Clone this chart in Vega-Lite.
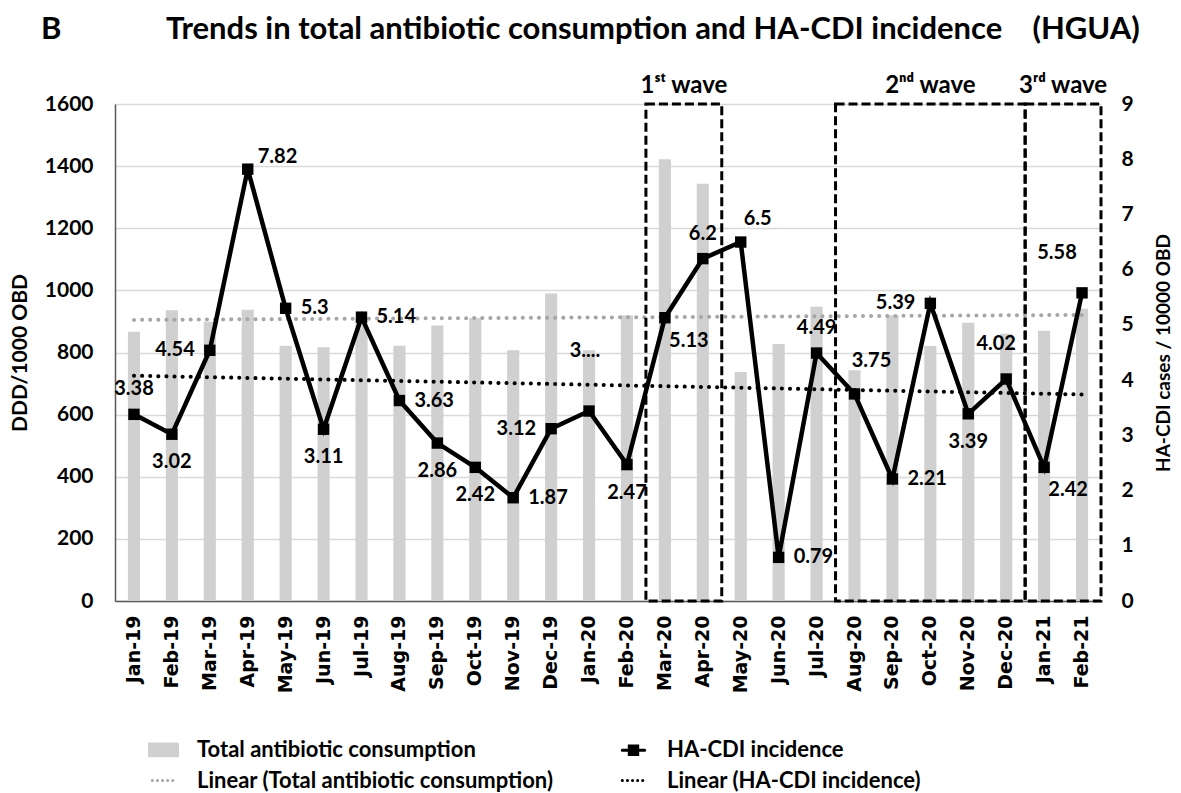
{
  "$schema": "https://vega.github.io/schema/vega-lite/v6.json",
  "width": 986,
  "height": 497,
  "autosize": {"type": "none"},
  "padding": {"left": 115, "top": 104, "right": 80, "bottom": 192},
  "background": "white",
  "config": {"view": {"stroke": null}, "font": "Lato"},
  "title": {
    "text": "B\u00a0\u00a0\u00a0\u00a0\u00a0\u00a0\u00a0\u00a0\u00a0\u00a0\u00a0\u00a0\u00a0\u00a0Trends in total antibiotic consumption and HA-CDI incidence\u00a0\u00a0\u00a0\u00a0(HGUA)",
    "anchor": "start",
    "frame": "group",
    "dx": -74,
    "offset": 28,
    "font": "Lato",
    "fontSize": 31,
    "fontWeight": "bold",
    "color": "black"
  },
  "datasets": {
    "monthly": [
      {"month": "Jan-19", "abx": 867, "cdi": 3.38, "cdi_label": "3.38"},
      {"month": "Feb-19", "abx": 936, "cdi": 3.02, "cdi_label": "3.02"},
      {"month": "Mar-19", "abx": 899, "cdi": 4.54, "cdi_label": "4.54"},
      {"month": "Apr-19", "abx": 938, "cdi": 7.82, "cdi_label": "7.82"},
      {"month": "May-19", "abx": 822, "cdi": 5.3, "cdi_label": "5.3"},
      {"month": "Jun-19", "abx": 817, "cdi": 3.11, "cdi_label": "3.11"},
      {"month": "Jul-19", "abx": 909, "cdi": 5.14, "cdi_label": "5.14"},
      {"month": "Aug-19", "abx": 822, "cdi": 3.63, "cdi_label": "3.63"},
      {"month": "Sep-19", "abx": 887, "cdi": 2.86, "cdi_label": "2.86"},
      {"month": "Oct-19", "abx": 911, "cdi": 2.42, "cdi_label": "2.42"},
      {"month": "Nov-19", "abx": 807, "cdi": 1.87, "cdi_label": "1.87"},
      {"month": "Dec-19", "abx": 990, "cdi": 3.12, "cdi_label": "3.12"},
      {"month": "Jan-20", "abx": 807, "cdi": 3.44, "cdi_label": "3...."},
      {"month": "Feb-20", "abx": 919, "cdi": 2.47, "cdi_label": "2.47"},
      {"month": "Mar-20", "abx": 1422, "cdi": 5.13, "cdi_label": "5.13"},
      {"month": "Apr-20", "abx": 1343, "cdi": 6.2, "cdi_label": "6.2"},
      {"month": "May-20", "abx": 737, "cdi": 6.5, "cdi_label": "6.5"},
      {"month": "Jun-20", "abx": 827, "cdi": 0.79, "cdi_label": "0.79"},
      {"month": "Jul-20", "abx": 947, "cdi": 4.49, "cdi_label": "4.49"},
      {"month": "Aug-20", "abx": 743, "cdi": 3.75, "cdi_label": "3.75"},
      {"month": "Sep-20", "abx": 920, "cdi": 2.21, "cdi_label": "2.21"},
      {"month": "Oct-20", "abx": 821, "cdi": 5.39, "cdi_label": "5.39"},
      {"month": "Nov-20", "abx": 896, "cdi": 3.39, "cdi_label": "3.39"},
      {"month": "Dec-20", "abx": 860, "cdi": 4.02, "cdi_label": "4.02"},
      {"month": "Jan-21", "abx": 870, "cdi": 2.42, "cdi_label": "2.42"},
      {"month": "Feb-21", "abx": 941, "cdi": 5.58, "cdi_label": "5.58"}
    ],
    "trend": [
      {"month": "Jan-19", "abx_trend": 905, "cdi_trend": 4.08},
      {"month": "Feb-21", "abx_trend": 921, "cdi_trend": 3.74}
    ],
    "waves": [
      {"wave": "1st", "start": "Mar-20", "end": "Apr-20"},
      {"wave": "2nd", "start": "Aug-20", "end": "Dec-20"},
      {"wave": "3rd", "start": "Jan-21", "end": "Feb-21"}
    ]
  },
  "data": {"name": "monthly"},
  "layer": [
    {
      "layer": [
        {
          "mark": {"type": "bar", "width": {"band": 0.32}},
          "encoding": {
            "x": {
              "field": "month",
              "type": "ordinal",
              "scale": {
                "domain": ["Jan-19","Feb-19","Mar-19","Apr-19","May-19","Jun-19","Jul-19","Aug-19","Sep-19","Oct-19","Nov-19","Dec-19","Jan-20","Feb-20","Mar-20","Apr-20","May-20","Jun-20","Jul-20","Aug-20","Sep-20","Oct-20","Nov-20","Dec-20","Jan-21","Feb-21"],
                "paddingInner": 0,
                "paddingOuter": 0
              },
              "axis": {
                "title": null,
                "labelAngle": -90,
                "labelFont": "DejaVu Sans",
                "labelFontWeight": "bold",
                "labelFontSize": 19,
                "labelColor": "black",
                "labelPadding": 14,
                "ticks": false,
                "domainColor": "#595959",
                "domainWidth": 1.5,
                "grid": false
              }
            },
            "y": {
              "field": "abx",
              "type": "quantitative",
              "scale": {"domain": [0, 1600], "nice": false},
              "axis": {
                "title": "DDD/1000 OBD",
                "titleFont": "Lato",
                "titleFontSize": 21,
                "titleFontWeight": "bold",
                "titleColor": "black",
                "titlePadding": 14,
                "values": [0, 200, 400, 600, 800, 1000, 1200, 1400, 1600],
                "format": "d",
                "labelFont": "Lato",
                "labelFontSize": 21,
                "labelFontWeight": "bold",
                "labelColor": "black",
                "labelPadding": 22,
                "ticks": false,
                "domainColor": "#595959",
                "domainWidth": 1.5,
                "grid": true,
                "gridColor": "#d9d9d9",
                "gridWidth": 1.5
              }
            },
            "color": {
              "datum": "Total antibiotic consumption",
              "type": "nominal",
              "scale": {
                "domain": ["Total antibiotic consumption", "Linear (Total antibiotic consumption)", "HA-CDI incidence", "Linear (HA-CDI incidence)"],
                "range": ["#d0d0d0", "#a6a6a6", "#000000", "#000000"]
              },
              "legend": {
                "orient": "none",
                "legendX": 33,
                "legendY": 630,
                "columns": 2,
                "columnPadding": 62,
                "rowPadding": 3,
                "symbolSize": 784,
                "symbolStrokeWidth": 3,
                "labelFont": "Lato",
                "labelFontSize": 22,
                "labelFontWeight": "bold",
                "labelColor": "black",
                "labelOffset": 18,
                "labelLimit": 600,
                "title": null,
                "encode": {
                  "symbols": {
                    "update": {
                      "shape": {"signal": "datum.value === 'Total antibiotic consumption' ? 'M-1,-0.42H1V0.42H-1Z' : datum.value === 'HA-CDI incidence' ? 'M-0.8,0H0.8M-0.3,-0.3H0.3V0.3H-0.3Z' : 'M-0.8,0H0.8'"},
                      "fill": {"signal": "datum.value === 'Total antibiotic consumption' ? '#d0d0d0' : datum.value === 'HA-CDI incidence' ? '#000000' : 'transparent'"},
                      "stroke": {"signal": "datum.value === 'Total antibiotic consumption' ? 'transparent' : datum.value === 'Linear (Total antibiotic consumption)' ? '#a6a6a6' : '#000000'"},
                      "strokeDash": {"signal": "indexof(datum.value, 'Linear') === 0 ? [0.1, 5] : [1, 0]"},
                      "strokeCap": {"value": "round"},
                      "strokeWidth": {"value": 3},
                      "opacity": {"value": 1}
                    }
                  }
                }
              }
            }
          }
        },
        {
          "data": {"name": "trend"},
          "mark": {"type": "line", "strokeWidth": 4, "strokeCap": "round", "strokeDash": [0.1, 8]},
          "encoding": {
            "x": {"field": "month", "type": "ordinal"},
            "y": {"field": "abx_trend", "type": "quantitative"},
            "color": {"datum": "Linear (Total antibiotic consumption)", "type": "nominal"}
          }
        },
        {
          "data": {"name": "waves"},
          "mark": {"type": "rect", "filled": false, "stroke": "black", "strokeWidth": 3, "strokeDash": [9, 4]},
          "encoding": {
            "x": {"field": "start", "type": "ordinal", "bandPosition": 0},
            "x2": {"field": "end", "bandPosition": 1},
            "y": {"datum": 0, "type": "quantitative"},
            "y2": {"datum": 1600}
          }
        }
      ]
    },
    {
      "layer": [
        {
          "data": {"name": "trend"},
          "mark": {"type": "line", "strokeWidth": 4, "strokeCap": "round", "strokeDash": [0.1, 8]},
          "encoding": {
            "x": {"field": "month", "type": "ordinal"},
            "y": {"field": "cdi_trend", "type": "quantitative"},
            "color": {"datum": "Linear (HA-CDI incidence)", "type": "nominal"}
          }
        },
        {
          "mark": {"type": "line", "strokeWidth": 4.5, "strokeJoin": "miter"},
          "encoding": {
            "x": {"field": "month", "type": "ordinal"},
            "y": {
              "field": "cdi",
              "type": "quantitative",
              "scale": {"domain": [0, 9], "nice": false},
              "axis": {
                "orient": "right",
                "title": "HA-CDI cases / 10000 OBD",
                "titleFont": "Lato",
                "titleFontSize": 19,
                "titleFontWeight": "bold",
                "titleColor": "black",
                "titleAngle": 270,
                "titleBaseline": "top",
                "titlePadding": 21,
                "values": [0, 1, 2, 3, 4, 5, 6, 7, 8, 9],
                "format": "d",
                "labelFont": "Lato",
                "labelFontSize": 21,
                "labelFontWeight": "bold",
                "labelColor": "black",
                "labelPadding": 20,
                "ticks": false,
                "domain": false,
                "grid": false
              }
            },
            "color": {"datum": "HA-CDI incidence", "type": "nominal"}
          }
        },
        {
          "mark": {"type": "point", "shape": "square", "filled": true, "size": 130, "color": "black", "opacity": 1},
          "encoding": {
            "x": {"field": "month", "type": "ordinal"},
            "y": {"field": "cdi", "type": "quantitative"}
          }
        },
        {
          "transform": [{"filter": {"field": "month", "oneOf": ["Jan-19", "Apr-20", "Jul-20"]}}],
          "mark": {"type": "text", "font": "Lato", "fontSize": 20, "fontWeight": "bold", "color": "black", "align": "center", "baseline": "middle", "dy": -25},
          "encoding": {
            "x": {"field": "month", "type": "ordinal"},
            "y": {"field": "cdi", "type": "quantitative"},
            "text": {"field": "cdi_label"}
          }
        },
        {
          "transform": [{"filter": {"field": "month", "oneOf": ["Feb-19", "Jun-19", "Sep-19", "Oct-19", "Feb-20", "Nov-20"]}}],
          "mark": {"type": "text", "font": "Lato", "fontSize": 20, "fontWeight": "bold", "color": "black", "align": "center", "baseline": "middle", "dy": 28},
          "encoding": {
            "x": {"field": "month", "type": "ordinal"},
            "y": {"field": "cdi", "type": "quantitative"},
            "text": {"field": "cdi_label"}
          }
        },
        {
          "transform": [{"filter": {"field": "month", "oneOf": ["May-19", "Jul-19", "Aug-19", "Nov-19", "Jun-20", "Sep-20"]}}],
          "mark": {"type": "text", "font": "Lato", "fontSize": 20, "fontWeight": "bold", "color": "black", "align": "left", "baseline": "middle", "dx": 15},
          "encoding": {
            "x": {"field": "month", "type": "ordinal"},
            "y": {"field": "cdi", "type": "quantitative"},
            "text": {"field": "cdi_label"}
          }
        },
        {
          "transform": [{"filter": {"field": "month", "oneOf": ["Mar-19", "Dec-19", "Oct-20"]}}],
          "mark": {"type": "text", "font": "Lato", "fontSize": 20, "fontWeight": "bold", "color": "black", "align": "right", "baseline": "middle", "dx": -15},
          "encoding": {
            "x": {"field": "month", "type": "ordinal"},
            "y": {"field": "cdi", "type": "quantitative"},
            "text": {"field": "cdi_label"}
          }
        },
        {
          "transform": [{"filter": {"field": "month", "equal": "Apr-19"}}],
          "mark": {"type": "text", "font": "Lato", "fontSize": 20, "fontWeight": "bold", "color": "black", "align": "left", "baseline": "middle", "dx": 10, "dy": -12},
          "encoding": {
            "x": {"field": "month", "type": "ordinal"},
            "y": {"field": "cdi", "type": "quantitative"},
            "text": {"field": "cdi_label"}
          }
        },
        {
          "transform": [{"filter": {"field": "month", "equal": "May-20"}}],
          "mark": {"type": "text", "font": "Lato", "fontSize": 20, "fontWeight": "bold", "color": "black", "align": "center", "baseline": "middle", "dx": 17, "dy": -23},
          "encoding": {
            "x": {"field": "month", "type": "ordinal"},
            "y": {"field": "cdi", "type": "quantitative"},
            "text": {"field": "cdi_label"}
          }
        },
        {
          "transform": [{"filter": {"field": "month", "oneOf": ["Mar-20", "Jan-21"]}}],
          "mark": {"type": "text", "font": "Lato", "fontSize": 20, "fontWeight": "bold", "color": "black", "align": "center", "baseline": "middle", "dx": 24, "dy": 23},
          "encoding": {
            "x": {"field": "month", "type": "ordinal"},
            "y": {"field": "cdi", "type": "quantitative"},
            "text": {"field": "cdi_label"}
          }
        },
        {
          "transform": [{"filter": {"field": "month", "equal": "Aug-20"}}],
          "mark": {"type": "text", "font": "Lato", "fontSize": 20, "fontWeight": "bold", "color": "black", "align": "center", "baseline": "middle", "dx": 17, "dy": -33},
          "encoding": {
            "x": {"field": "month", "type": "ordinal"},
            "y": {"field": "cdi", "type": "quantitative"},
            "text": {"field": "cdi_label"}
          }
        },
        {
          "transform": [{"filter": {"field": "month", "equal": "Jan-20"}}],
          "mark": {"type": "text", "font": "Lato", "fontSize": 20, "fontWeight": "bold", "color": "black", "align": "center", "baseline": "middle", "dx": -4, "dy": -60},
          "encoding": {
            "x": {"field": "month", "type": "ordinal"},
            "y": {"field": "cdi", "type": "quantitative"},
            "text": {"field": "cdi_label"}
          }
        },
        {
          "transform": [{"filter": {"field": "month", "equal": "Dec-20"}}],
          "mark": {"type": "text", "font": "Lato", "fontSize": 20, "fontWeight": "bold", "color": "black", "align": "center", "baseline": "middle", "dx": -10, "dy": -35},
          "encoding": {
            "x": {"field": "month", "type": "ordinal"},
            "y": {"field": "cdi", "type": "quantitative"},
            "text": {"field": "cdi_label"}
          }
        },
        {
          "transform": [{"filter": {"field": "month", "equal": "Feb-21"}}],
          "mark": {"type": "text", "font": "Lato", "fontSize": 20, "fontWeight": "bold", "color": "black", "align": "center", "baseline": "middle", "dx": -25, "dy": -40},
          "encoding": {
            "x": {"field": "month", "type": "ordinal"},
            "y": {"field": "cdi", "type": "quantitative"},
            "text": {"field": "cdi_label"}
          }
        },
        {
          "transform": [{"filter": {"field": "month", "equal": "Mar-20"}}],
          "mark": {"type": "text", "text": "1ˢᵗ wave", "font": "Lato", "fontSize": 24, "fontWeight": "bold", "color": "black", "align": "center", "baseline": "middle"},
          "encoding": {
            "x": {"field": "month", "type": "ordinal", "bandPosition": 1},
            "y": {"datum": 9.33, "type": "quantitative"}
          }
        },
        {
          "transform": [{"filter": {"field": "month", "equal": "Oct-20"}}],
          "mark": {"type": "text", "text": "2ⁿᵈ wave", "font": "Lato", "fontSize": 24, "fontWeight": "bold", "color": "black", "align": "center", "baseline": "middle"},
          "encoding": {
            "x": {"field": "month", "type": "ordinal", "bandPosition": 0.5},
            "y": {"datum": 9.33, "type": "quantitative"}
          }
        },
        {
          "transform": [{"filter": {"field": "month", "equal": "Jan-21"}}],
          "mark": {"type": "text", "text": "3ʳᵈ wave", "font": "Lato", "fontSize": 24, "fontWeight": "bold", "color": "black", "align": "center", "baseline": "middle"},
          "encoding": {
            "x": {"field": "month", "type": "ordinal", "bandPosition": 1},
            "y": {"datum": 9.33, "type": "quantitative"}
          }
        }
      ]
    }
  ],
  "resolve": {"scale": {"y": "independent"}}
}
